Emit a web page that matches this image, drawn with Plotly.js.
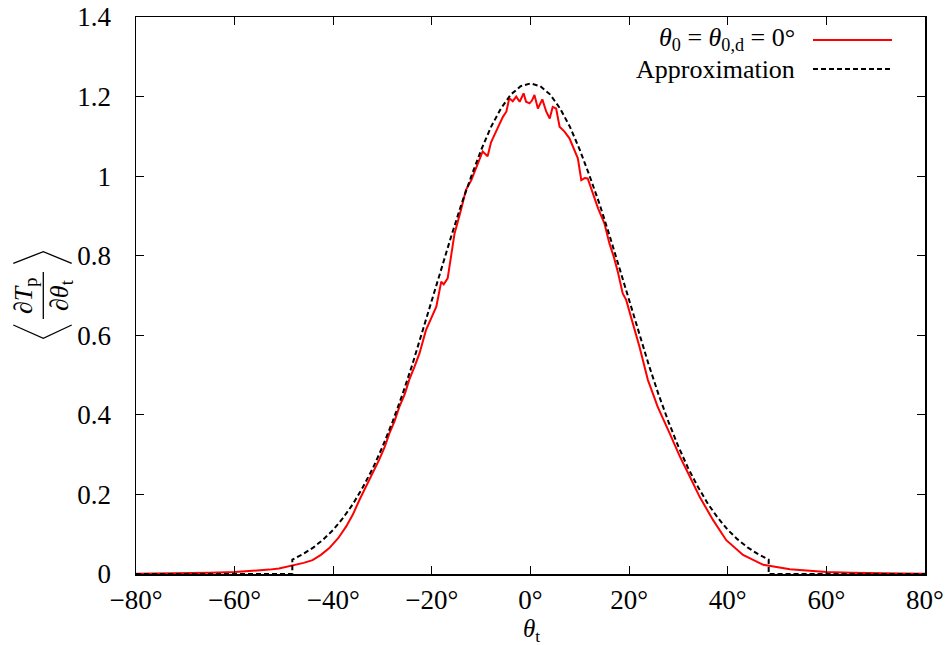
<!DOCTYPE html>
<html>
<head>
<meta charset="utf-8">
<script src="https://cdn.plot.ly/plotly-3.0.1.min.js"></script>
<style>body{margin:0;background:#fff}#chart{width:947px;height:645px}</style>
</head>
<body>
<div id="chart"></div>
<script>
// Simulated curve (theta_0 = theta_0,d = 0 deg)
const simTheta = [-80,-75,-70,-65,-60,-56,-53,-51,-48.3,-46,-44.2,-42.5,-40.8,-39,-37.4,-36,-34.7,-32.7,-30.7,-29.6,-28.6,-27.6,-26.6,-25.5,-24.6,-23.5,-22.5,-21.2,-20.2,-19.1,-18.1,-17.6,-16.8,-15.4,-14.1,-13.1,-12.0,-11.0,-9.7,-8.7,-8.0,-7.0,-5.6,-4.9,-4.3,-3.6,-2.9,-2.2,-1.4,-0.9,-0.2,0.3,0.8,1.5,2.4,3.2,3.9,4.5,5.2,5.9,6.9,7.9,8.9,9.6,10.3,11.0,11.6,12.3,13.7,15.0,16.0,16.9,17.7,18.7,19.4,20.4,22.1,23.8,25.8,28.2,30.3,32.3,34.3,37.0,39.7,43.1,47.2,52.6,56,60,65,70,75,80];
const simValue = [0.0005,0.001,0.0015,0.003,0.005,0.008,0.011,0.014,0.021,0.028,0.035,0.048,0.065,0.090,0.119,0.150,0.186,0.236,0.287,0.318,0.354,0.383,0.420,0.452,0.488,0.522,0.555,0.613,0.643,0.672,0.735,0.728,0.743,0.856,0.915,0.965,0.990,1.020,1.062,1.050,1.085,1.112,1.149,1.162,1.196,1.188,1.200,1.187,1.208,1.187,1.183,1.190,1.204,1.170,1.193,1.162,1.145,1.174,1.170,1.124,1.112,1.095,1.066,1.045,0.990,0.995,0.994,0.969,0.919,0.881,0.831,0.797,0.760,0.705,0.689,0.645,0.571,0.488,0.420,0.354,0.295,0.245,0.194,0.136,0.085,0.048,0.023,0.012,0.008,0.005,0.003,0.0015,0.001,0.0005];

// Approximation curve
const apxTheta = [-80,-48.3,-48.3,-46,-44,-42,-40,-38,-36,-34,-32,-30,-28,-26,-24,-22,-20,-18,-16,-14,-12,-10,-8,-6,-4,-2,0,2,4,6,8,10,12,14,16,18,20,22,24,26,28,30,32,34,36,38,40,42,44,46,48.3,48.3,80];
const apxValue = [0,0,0.036,0.051,0.067,0.087,0.111,0.141,0.176,0.218,0.265,0.320,0.382,0.450,0.525,0.605,0.688,0.770,0.852,0.930,1.000,1.066,1.124,1.170,1.205,1.226,1.233,1.226,1.205,1.170,1.124,1.066,1.000,0.930,0.852,0.770,0.688,0.605,0.525,0.450,0.382,0.320,0.265,0.218,0.176,0.141,0.111,0.087,0.067,0.051,0.036,0,0];

const xTickVals = [-80,-60,-40,-20,0,20,40,60,80];
const xTickText = ['\u221280°','\u221260°','\u221240°','\u221220°','0°','20°','40°','60°','80°'];
const yTickVals = [0,0.2,0.4,0.6,0.8,1,1.2,1.4];
const yTickText = ['0','0.2','0.4','0.6','0.8','1','1.2','1.4'];
const legendLabels = ['<i>θ</i><sub>0</sub> = <i>θ</i><sub>0,d</sub> = 0°','Approximation'];

const FONT = 'Liberation Serif';
const L = 136, R = 925, T = 17, B = 574;
const px = x => (x - L) / (R - L);
const py = y => (B - y) / (B - T);

const traces = [
  {x: simTheta, y: simValue, type: 'scatter', mode: 'lines', line: {color: '#ff0000', width: 2}, hoverinfo: 'skip'},
  {x: apxTheta, y: apxValue, type: 'scatter', mode: 'lines', line: {color: '#000000', width: 2, dash: '5px,3px'}, hoverinfo: 'skip'}
];

function axis(extra) {
  return Object.assign({
    showgrid: false, zeroline: false, showline: true, linecolor: '#000', linewidth: 1.5,
    mirror: 'allticks', ticks: 'inside', ticklen: 8, tickwidth: 1.2, tickcolor: '#000',
    tickfont: {family: FONT, size: 27, color: '#000'}
  }, extra);
}

const layout = {
  width: 947, height: 645,
  margin: {l: L, r: 947 - R, t: T, b: 645 - B},
  paper_bgcolor: '#fff', plot_bgcolor: '#fff',
  showlegend: false,
  xaxis: axis({range: [-80, 80], tickmode: 'array', tickvals: xTickVals, ticktext: xTickText, ticklabelstandoff: 1}),
  yaxis: axis({range: [0, 1.4], tickmode: 'array', tickvals: yTickVals, ticktext: yTickText, ticklabelstandoff: 18}),
  font: {family: FONT, color: '#000', size: 27},
  annotations: [
    {xref: 'paper', yref: 'paper', x: px(531), y: py(630), text: '<i>θ</i><sub>t</sub>', showarrow: false, font: {family: FONT, size: 25}, xanchor: 'center', yanchor: 'middle'},
    {xref: 'paper', yref: 'paper', x: px(25), y: py(296), text: '∂<i>T</i><sub>p</sub>', showarrow: false, textangle: -90, font: {family: FONT, size: 26}, xanchor: 'center', yanchor: 'middle'},
    {xref: 'paper', yref: 'paper', x: px(61), y: py(296), text: '∂<i>θ</i><sub>t</sub>', showarrow: false, textangle: -90, font: {family: FONT, size: 26}, xanchor: 'center', yanchor: 'middle'},
    {xref: 'paper', yref: 'paper', x: px(797), y: py(39), text: legendLabels[0], showarrow: false, font: {family: FONT, size: 26}, xanchor: 'right', yanchor: 'middle'},
    {xref: 'paper', yref: 'paper', x: px(797), y: py(70), text: legendLabels[1], showarrow: false, font: {family: FONT, size: 26}, xanchor: 'right', yanchor: 'middle'}
  ],
  shapes: [
    {type: 'line', xref: 'paper', yref: 'paper', x0: px(43.3), x1: px(43.3), y0: py(272), y1: py(319), line: {color: '#000', width: 1.3}},
    {type: 'path', xref: 'paper', yref: 'paper', path: `M ${px(13.3)} ${py(325)} L ${px(43.3)} ${py(338.3)} L ${px(71.7)} ${py(325)}`, line: {color: '#000', width: 1.3}},
    {type: 'path', xref: 'paper', yref: 'paper', path: `M ${px(13.3)} ${py(263.3)} L ${px(43.3)} ${py(251.7)} L ${px(71.7)} ${py(263.3)}`, line: {color: '#000', width: 1.3}},
    {type: 'line', xref: 'paper', yref: 'paper', x0: px(813), x1: px(892), y0: py(40), y1: py(40), line: {color: '#ff0000', width: 2}},
    {type: 'line', xref: 'paper', yref: 'paper', x0: px(813), x1: px(892), y0: py(69), y1: py(69), line: {color: '#000', width: 2, dash: '5px,3px'}}
  ]
};

Plotly.newPlot('chart', traces, layout, {staticPlot: true, displayModeBar: false});
</script>
</body>
</html>
